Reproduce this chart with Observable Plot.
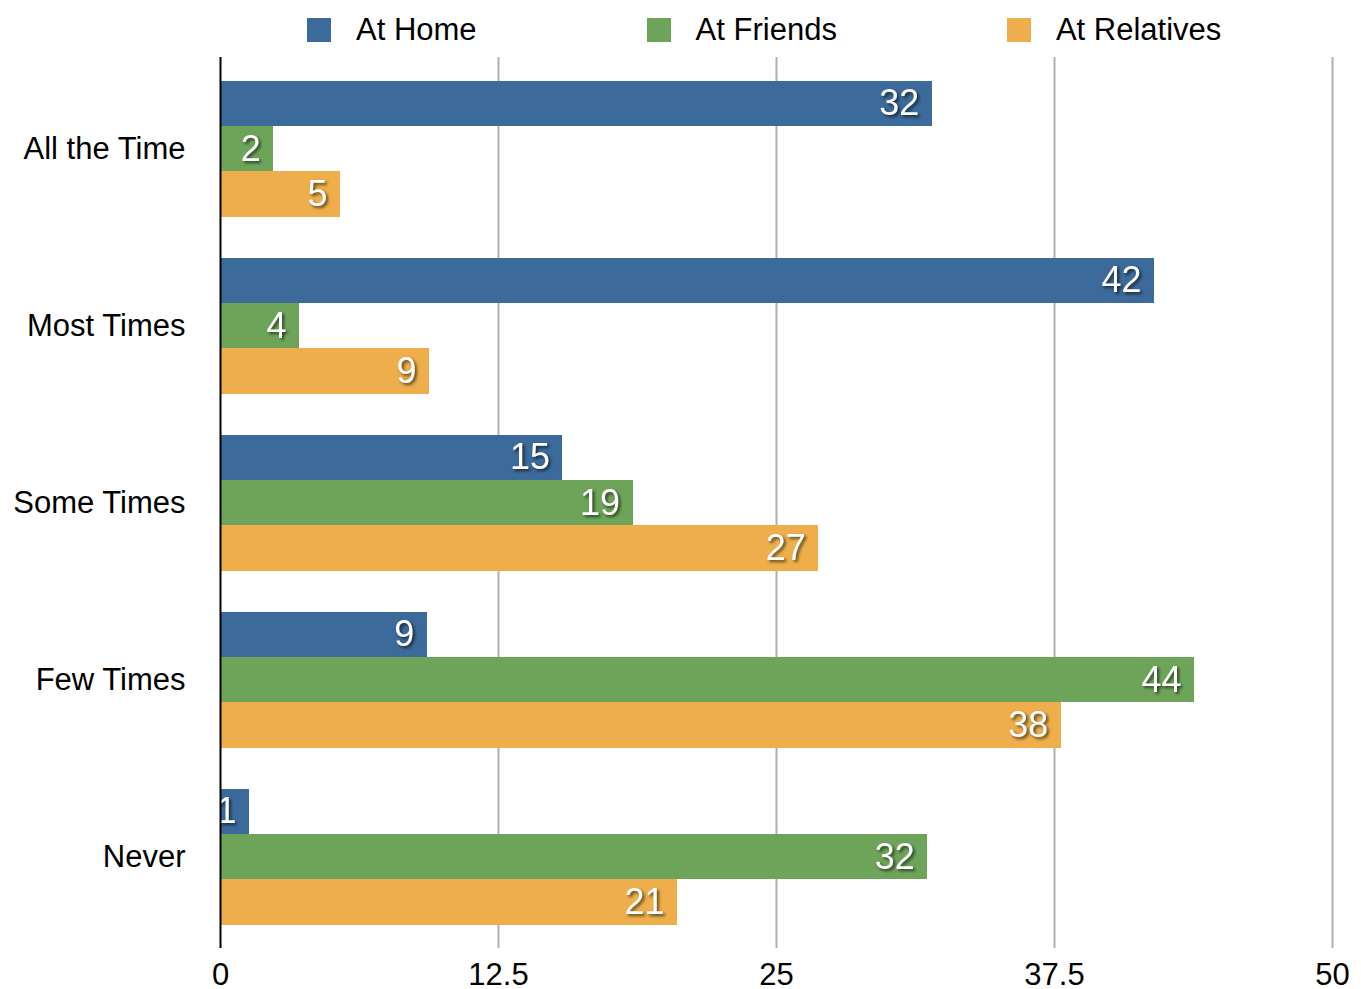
<!DOCTYPE html>
<html>
<head>
<meta charset="utf-8">
<script src="https://cdn.jsdelivr.net/npm/d3@7"></script>
<script src="https://cdn.jsdelivr.net/npm/@observablehq/plot@0.6"></script>
<style>
  body { margin: 0; background: #fff; font-family: "Liberation Sans", Helvetica, Arial, sans-serif; }
  #legend { height: 56px; padding-top: 4px; display: flex; align-items: center; padding-left: 307px; gap: 170px; box-sizing: border-box; white-space: nowrap; }
  .item { display: flex; align-items: center; font-size: 31px; color: #000; flex-shrink: 0; white-space: nowrap; }
  .sw { width: 24px; height: 24px; margin-right: 25px; flex-shrink: 0; }
</style>
</head>
<body>
<div id="legend"></div>
<div id="chart"></div>
<script>
const categories = ["All the Time", "Most Times", "Some Times", "Few Times", "Never"];
const series = ["At Home", "At Friends", "At Relatives"];
const colors = ["#3c6a9a", "#6ea45a", "#edae4b"];
const atHome = [32.0, 42.0, 15.4, 9.3, 1.3];
const atFriends = [2.4, 3.55, 18.55, 43.8, 31.8];
const atRelatives = [5.4, 9.4, 26.9, 37.8, 20.55];
const xTicks = [0, 12.5, 25, 37.5, 50];

const valuesBySeries = [atHome, atFriends, atRelatives];
const data = [];
series.forEach((s, si) => categories.forEach((c, ci) => data.push({category: c, series: s, si, value: valuesBySeries[si][ci]})));

// legend
const legend = d3.select("#legend");
series.forEach((s, i) => {
  const it = legend.append("div").attr("class", "item");
  it.append("div").attr("class", "sw").style("background", colors[i]);
  it.append("span").text(s);
});

const width = 1361, height = 933;
const marginTop = 1, marginBottom = 41, marginLeft = 220, marginRight = 29;
const paddingInner = 0.235, paddingOuter = 0.13;
const step = (height - marginTop - marginBottom) / (categories.length - paddingInner + 2 * paddingOuter);
const bw = step * (1 - paddingInner);
const part = bw / series.length;

const marks = [
  Plot.ruleX(xTicks.filter(d => d > 0), {stroke: "#b0b0b0", strokeWidth: 2})
];
series.forEach((s, si) => {
  const rows = data.filter(d => d.si === si);
  marks.push(Plot.barX(rows, {
    x: "value", y: "category", fill: colors[si], shapeRendering: "crispEdges",
    insetTop: si * part - 0.5, insetBottom: (series.length - 1 - si) * part - 0.5
  }));
});
series.forEach((s, si) => {
  const rows = data.filter(d => d.si === si);
  marks.push(Plot.text(rows, {
    x: "value", y: "category", text: d => d3.format(".0f")(d.value),
    dy: (si - (series.length - 1) / 2) * part, dx: -13,
    textAnchor: "end", fill: "white", fontSize: 36
  }));
});
marks.push(Plot.ruleX([0], {stroke: "#000", strokeWidth: 2}));

const plot = Plot.plot({
  width, height, marginTop, marginBottom, marginLeft, marginRight,
  style: {fontFamily: '"Liberation Sans", Helvetica, Arial, sans-serif', fontSize: "31px", color: "#000", background: "#fff", overflow: "visible"},
  x: {domain: [0, 50], ticks: xTicks, tickFormat: d => String(d), tickSize: 0, tickPadding: 14, label: null},
  y: {domain: categories, paddingInner, paddingOuter, tickSize: 0, tickPadding: 35, label: null},
  marks
});
d3.select(plot).selectAll('g[fill="white"]').style("filter", "drop-shadow(2px 2px 1.5px rgba(0,0,0,0.6))");
document.getElementById("chart").appendChild(plot);
</script>
</body>
</html>
